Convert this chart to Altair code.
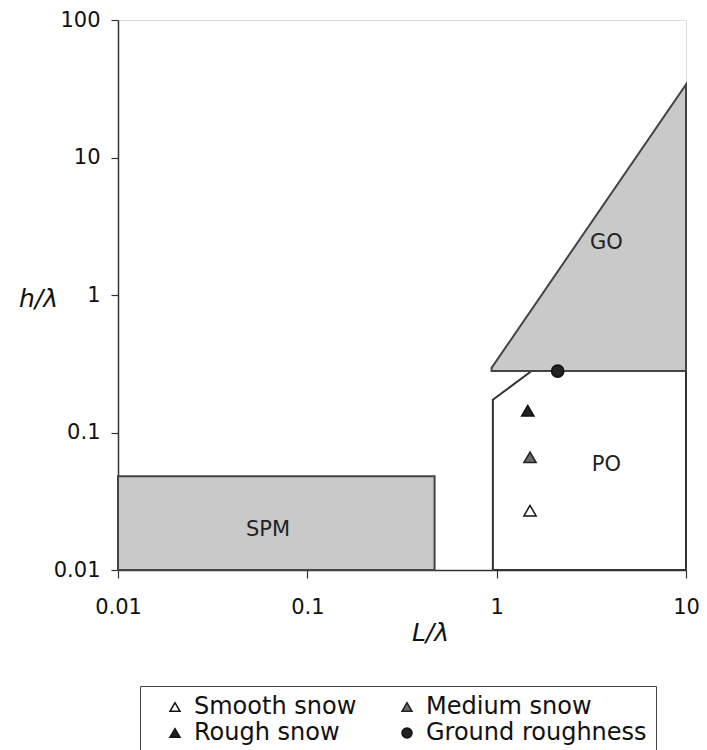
import altair as alt
import pandas as pd

# Regions
spm_L = [0.01, 0.47]
spm_h = [0.01, 0.048]

go_L = [0.94, 10.0]
go_top = [0.295, 34.0]
go_bottom = [0.28, 0.28]

po_L = [0.955, 1.53, 10.0]
po_top = [0.173, 0.28, 0.28]
po_bottom = [0.01, 0.01, 0.01]

# Observations (legend order: column 1 then column 2)
series = ["Smooth snow", "Rough snow", "Medium snow", "Ground roughness"]
obs_L = [1.5, 1.46, 1.5, 2.1]
obs_h = [0.027, 0.144, 0.066, 0.28]
series_shape = ["triangle-up", "triangle-up", "triangle-up", "circle"]
series_fill = ["white", "#222222", "#6a6a6a", "#222222"]
series_stroke = ["#111111", "#111111", "#222222", "#111111"]

# Region labels
region_names = ["SPM", "GO", "PO"]
region_L = [0.062, 3.8, 3.8]
region_h = [0.0195, 2.4, 0.058]

x_ticks = [0.01, 0.1, 1, 10]
y_ticks = [0.01, 0.1, 1, 10, 100]

FONT = "DejaVu Sans"

xscale = alt.Scale(type="log", domain=[0.01, 10], nice=False)
yscale = alt.Scale(type="log", domain=[0.01, 100], nice=False)

xaxis = alt.Axis(values=x_ticks, format="~g", title="L/λ", grid=False,
                 tickSize=8, labelPadding=18, labelFontSize=21, labelFont=FONT,
                 labelFlush=False, labelOverlap=False,
                 labelColor="#111", domainColor="#333", domainWidth=1.5,
                 tickColor="#333", tickWidth=1.2,
                 titleFont=FONT, titleFontSize=25, titleFontStyle="italic",
                 titleFontWeight="normal", titleColor="#111",
                 titleX=312, titleY=62, titleBaseline="middle", titleAlign="center")
yaxis = alt.Axis(values=y_ticks, format="~g", title="h/λ", grid=False,
                 tickSize=7, labelPadding=11, labelFontSize=21, labelFont=FONT,
                 labelFlush=False, labelOverlap=False,
                 labelColor="#111", domainColor="#333", domainWidth=1.5,
                 tickColor="#333", tickWidth=1.2,
                 titleFont=FONT, titleFontSize=25, titleFontStyle="italic",
                 titleFontWeight="normal", titleColor="#111", titleAngle=0,
                 titleX=-80, titleY=278, titleBaseline="middle", titleAlign="center")

spm_df = pd.DataFrame({"L": [spm_L[0]], "L2": [spm_L[1]], "h": [spm_h[0]], "h2": [spm_h[1]]})
go_df = pd.DataFrame({"L": go_L, "top": go_top, "bottom": go_bottom})
po_df = pd.DataFrame({"L": po_L, "top": po_top, "bottom": po_bottom})
obs_df = pd.DataFrame({"series": series, "L": obs_L, "h": obs_h})
lab_df = pd.DataFrame({"name": region_names, "L": region_L, "h": region_h})

spm = alt.Chart(spm_df).mark_rect(fill="#c9c9c9", stroke="#444", strokeWidth=2).encode(
    x=alt.X("L:Q", scale=xscale, axis=xaxis),
    x2="L2",
    y=alt.Y("h:Q", scale=yscale, axis=yaxis),
    y2="h2",
)

po = alt.Chart(po_df).mark_area(fill="white", stroke="#333", strokeWidth=2, interpolate="linear").encode(
    x=alt.X("L:Q", scale=xscale),
    y=alt.Y("top:Q", scale=yscale),
    y2="bottom",
)

go = alt.Chart(go_df).mark_area(fill="#c9c9c9", stroke="#444", strokeWidth=2, interpolate="linear").encode(
    x=alt.X("L:Q", scale=xscale),
    y=alt.Y("top:Q", scale=yscale),
    y2="bottom",
)

legend = alt.Legend(title=None, orient="none", legendX=22, legendY=666, columns=2,
                    direction="vertical",
                    labelFont=FONT, labelFontSize=24, labelColor="#111", labelLimit=0,
                    symbolSize=100, symbolStrokeWidth=1.5,
                    columnPadding=24, rowPadding=2, padding=9, labelOffset=7,
                    strokeColor="#444", fillColor="white", cornerRadius=0,
                    symbolOffset=14)

pts = alt.Chart(obs_df).mark_point(filled=True, size=150, strokeWidth=1.5, opacity=1).encode(
    x=alt.X("L:Q", scale=xscale),
    y=alt.Y("h:Q", scale=yscale),
    shape=alt.Shape("series:N", sort=series,
                    scale=alt.Scale(domain=series, range=series_shape),
                    legend=legend),
    fill=alt.Fill("series:N", sort=series,
                  scale=alt.Scale(domain=series, range=series_fill),
                  legend=legend),
    stroke=alt.Stroke("series:N", sort=series,
                      scale=alt.Scale(domain=series, range=series_stroke),
                      legend=legend),
)

labels = alt.Chart(lab_df).mark_text(font=FONT, fontSize=21, color="#222").encode(
    x=alt.X("L:Q", scale=xscale),
    y=alt.Y("h:Q", scale=yscale),
    text="name:N",
)

chart = alt.layer(spm, po, go, pts, labels).properties(
    width=568, height=550,
    padding={"left": 110, "top": 12, "right": 13, "bottom": 180},
    autosize=alt.AutoSizeParams(type="none"),
).configure_view(stroke="#999", strokeWidth=1.2).configure(background="white")

chart.save("out.html", embed_options={"renderer": "svg", "actions": False})
